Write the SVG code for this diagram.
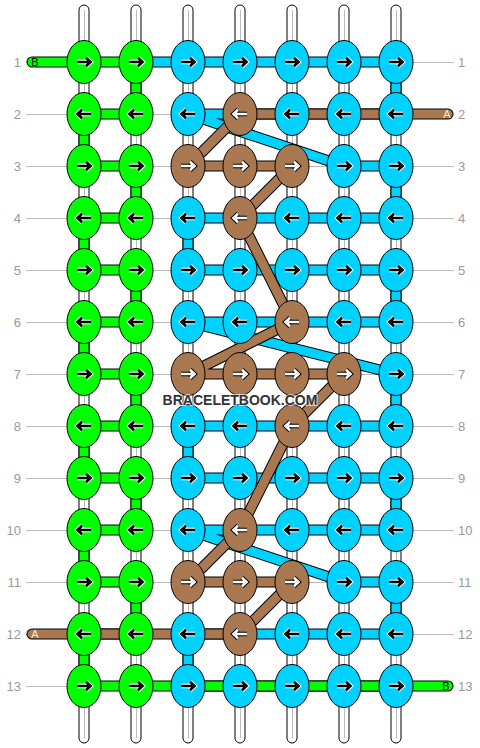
<svg xmlns="http://www.w3.org/2000/svg" xmlns:xlink="http://www.w3.org/1999/xlink" width="480" height="748" viewBox="0 0 480 748">
<style>
.lbl{font-family:"Liberation Sans",Arial,sans-serif;font-size:13px;fill:#999}
.rl{stroke:#bbb;stroke-width:1;fill:none}
.warp{fill:#fff;stroke:#000;stroke-width:1}
.warpc{stroke:#bbb;stroke-width:1}
.to{fill:none;stroke:#000;stroke-width:11;stroke-linejoin:round;stroke-linecap:round}
.tf{fill:none;stroke-width:9;stroke-linejoin:round;stroke-linecap:round}
.G{fill:#00ff00;stroke:#000;stroke-width:1}
.C{fill:#00d2ff;stroke:#000;stroke-width:1}
.B{fill:#a97850;stroke:#000;stroke-width:1}
.end{font-family:"Liberation Sans",Arial,sans-serif;font-size:11px;text-anchor:middle}
.wm{font-family:"Liberation Sans",Arial,sans-serif;font-weight:bold;font-size:14px;text-anchor:middle;fill:#333;stroke:#fff;stroke-width:2;paint-order:stroke;stroke-opacity:0.7}
</style>
<defs>
<path id="ap" d="M-7,0 H6.5 M2,-4.3 L6.5,0 L2,4.3"/>
<g id="R"><use href="#ap" fill="none" stroke="#fff" stroke-width="4.6"/><use href="#ap" fill="none" stroke="#000" stroke-width="2.6"/></g>
<g id="L"><use href="#R" transform="rotate(180)"/></g>
<g id="RW"><use href="#ap" fill="none" stroke="#000" stroke-width="4.6"/><use href="#ap" fill="none" stroke="#fff" stroke-width="2.6"/></g>
<g id="LW"><use href="#RW" transform="rotate(180)"/></g>
<ellipse id="e" rx="17" ry="21.5"/>
<path id="pc" d="M136,62 H396 V114 H188 L344,166 H396 V218 H188 V270 H396 V322 H188 L396,374 V426 H188 V478 H396 V530 H188 L344,582 H396 V634 H188 V686 H396"/>
<path id="pg" d="M32,62 H136 V114 H84 V166 H136 V218 H84 V270 H136 V322 H84 V374 H136 V426 H84 V478 H136 V530 H84 V582 H136 V634 H84 V686 H448"/>
<path id="pb" d="M448,114 H240 L188,166 H292 L240,218 L292,322 L188,374 H344 L292,426 L240,530 L188,582 H292 L240,634 H32"/>
</defs>

<g id="rowlines">
<path class="rl" d="M26,62.5H454M26,114.5H454M26,166.5H454M26,218.5H454M26,270.5H454M26,322.5H454M26,374.5H454M26,426.5H454M26,478.5H454M26,530.5H454M26,582.5H454M26,634.5H454M26,686.5H454"/>
</g>

<g id="labels-left" class="lbl" text-anchor="end">
<text x="21" y="67">1</text><text x="21" y="119">2</text><text x="21" y="171">3</text><text x="21" y="223">4</text><text x="21" y="275">5</text><text x="21" y="327">6</text><text x="21" y="379">7</text><text x="21" y="431">8</text><text x="21" y="483">9</text><text x="21" y="535">10</text><text x="21" y="587">11</text><text x="21" y="639">12</text><text x="21" y="691">13</text>
</g>
<g id="labels-right" class="lbl" text-anchor="start">
<text x="458" y="67">1</text><text x="458" y="119">2</text><text x="458" y="171">3</text><text x="458" y="223">4</text><text x="458" y="275">5</text><text x="458" y="327">6</text><text x="458" y="379">7</text><text x="458" y="431">8</text><text x="458" y="483">9</text><text x="458" y="535">10</text><text x="458" y="587">11</text><text x="458" y="639">12</text><text x="458" y="691">13</text>
</g>

<g id="warps">
<rect class="warp" x="79" y="5" width="10" height="738" rx="5"/><line class="warpc" x1="84.5" y1="10" x2="84.5" y2="738"/>
<rect class="warp" x="131" y="5" width="10" height="738" rx="5"/><line class="warpc" x1="136.5" y1="10" x2="136.5" y2="738"/>
<rect class="warp" x="183" y="5" width="10" height="738" rx="5"/><line class="warpc" x1="188.5" y1="10" x2="188.5" y2="738"/>
<rect class="warp" x="235" y="5" width="10" height="738" rx="5"/><line class="warpc" x1="240.5" y1="10" x2="240.5" y2="738"/>
<rect class="warp" x="287" y="5" width="10" height="738" rx="5"/><line class="warpc" x1="292.5" y1="10" x2="292.5" y2="738"/>
<rect class="warp" x="339" y="5" width="10" height="738" rx="5"/><line class="warpc" x1="344.5" y1="10" x2="344.5" y2="738"/>
<rect class="warp" x="391" y="5" width="10" height="738" rx="5"/><line class="warpc" x1="396.5" y1="10" x2="396.5" y2="738"/>
</g>

<g id="connectors">
<use href="#pc" class="to"/>
<use href="#pc" class="tf" stroke="#00d2ff"/>
<use href="#pg" class="to"/>
<use href="#pg" class="tf" stroke="#00ff00"/>
<use href="#pb" class="to"/>
<use href="#pb" class="tf" stroke="#a97850"/>
<text class="end" x="35" y="66" fill="#000">B</text>
<text class="end" x="447" y="118" fill="#f5e8dc">A</text>
<text class="end" x="35" y="638" fill="#f5e8dc">A</text>
<text class="end" x="446" y="690" fill="#000">B</text>
</g>

<g id="knots">
<g id="k1"><g transform="translate(84,62)"><use href="#e" class="G"/><use href="#R"/></g><g transform="translate(136,62)"><use href="#e" class="G"/><use href="#R"/></g><g transform="translate(188,62)"><use href="#e" class="C"/><use href="#R"/></g><g transform="translate(240,62)"><use href="#e" class="C"/><use href="#R"/></g><g transform="translate(292,62)"><use href="#e" class="C"/><use href="#R"/></g><g transform="translate(344,62)"><use href="#e" class="C"/><use href="#R"/></g><g transform="translate(396,62)"><use href="#e" class="C"/><use href="#R"/></g></g>
<g id="k2"><g transform="translate(84,114)"><use href="#e" class="G"/><use href="#L"/></g><g transform="translate(136,114)"><use href="#e" class="G"/><use href="#L"/></g><g transform="translate(188,114)"><use href="#e" class="C"/><use href="#L"/></g><g transform="translate(240,114)"><use href="#e" class="B"/><use href="#LW"/></g><g transform="translate(292,114)"><use href="#e" class="C"/><use href="#L"/></g><g transform="translate(344,114)"><use href="#e" class="C"/><use href="#L"/></g><g transform="translate(396,114)"><use href="#e" class="C"/><use href="#L"/></g></g>
<g id="k3"><g transform="translate(84,166)"><use href="#e" class="G"/><use href="#R"/></g><g transform="translate(136,166)"><use href="#e" class="G"/><use href="#R"/></g><g transform="translate(188,166)"><use href="#e" class="B"/><use href="#RW"/></g><g transform="translate(240,166)"><use href="#e" class="B"/><use href="#RW"/></g><g transform="translate(292,166)"><use href="#e" class="B"/><use href="#RW"/></g><g transform="translate(344,166)"><use href="#e" class="C"/><use href="#R"/></g><g transform="translate(396,166)"><use href="#e" class="C"/><use href="#R"/></g></g>
<g id="k4"><g transform="translate(84,218)"><use href="#e" class="G"/><use href="#L"/></g><g transform="translate(136,218)"><use href="#e" class="G"/><use href="#L"/></g><g transform="translate(188,218)"><use href="#e" class="C"/><use href="#L"/></g><g transform="translate(240,218)"><use href="#e" class="B"/><use href="#LW"/></g><g transform="translate(292,218)"><use href="#e" class="C"/><use href="#L"/></g><g transform="translate(344,218)"><use href="#e" class="C"/><use href="#L"/></g><g transform="translate(396,218)"><use href="#e" class="C"/><use href="#L"/></g></g>
<g id="k5"><g transform="translate(84,270)"><use href="#e" class="G"/><use href="#R"/></g><g transform="translate(136,270)"><use href="#e" class="G"/><use href="#R"/></g><g transform="translate(188,270)"><use href="#e" class="C"/><use href="#R"/></g><g transform="translate(240,270)"><use href="#e" class="C"/><use href="#R"/></g><g transform="translate(292,270)"><use href="#e" class="C"/><use href="#R"/></g><g transform="translate(344,270)"><use href="#e" class="C"/><use href="#R"/></g><g transform="translate(396,270)"><use href="#e" class="C"/><use href="#R"/></g></g>
<g id="k6"><g transform="translate(84,322)"><use href="#e" class="G"/><use href="#L"/></g><g transform="translate(136,322)"><use href="#e" class="G"/><use href="#L"/></g><g transform="translate(188,322)"><use href="#e" class="C"/><use href="#L"/></g><g transform="translate(240,322)"><use href="#e" class="C"/><use href="#L"/></g><g transform="translate(292,322)"><use href="#e" class="B"/><use href="#LW"/></g><g transform="translate(344,322)"><use href="#e" class="C"/><use href="#L"/></g><g transform="translate(396,322)"><use href="#e" class="C"/><use href="#L"/></g></g>
<g id="k7"><g transform="translate(84,374)"><use href="#e" class="G"/><use href="#R"/></g><g transform="translate(136,374)"><use href="#e" class="G"/><use href="#R"/></g><g transform="translate(188,374)"><use href="#e" class="B"/><use href="#RW"/></g><g transform="translate(240,374)"><use href="#e" class="B"/><use href="#RW"/></g><g transform="translate(292,374)"><use href="#e" class="B"/><use href="#RW"/></g><g transform="translate(344,374)"><use href="#e" class="B"/><use href="#RW"/></g><g transform="translate(396,374)"><use href="#e" class="C"/><use href="#R"/></g></g>
<g id="k8"><g transform="translate(84,426)"><use href="#e" class="G"/><use href="#L"/></g><g transform="translate(136,426)"><use href="#e" class="G"/><use href="#L"/></g><g transform="translate(188,426)"><use href="#e" class="C"/><use href="#L"/></g><g transform="translate(240,426)"><use href="#e" class="C"/><use href="#L"/></g><g transform="translate(292,426)"><use href="#e" class="B"/><use href="#LW"/></g><g transform="translate(344,426)"><use href="#e" class="C"/><use href="#L"/></g><g transform="translate(396,426)"><use href="#e" class="C"/><use href="#L"/></g></g>
<g id="k9"><g transform="translate(84,478)"><use href="#e" class="G"/><use href="#R"/></g><g transform="translate(136,478)"><use href="#e" class="G"/><use href="#R"/></g><g transform="translate(188,478)"><use href="#e" class="C"/><use href="#R"/></g><g transform="translate(240,478)"><use href="#e" class="C"/><use href="#R"/></g><g transform="translate(292,478)"><use href="#e" class="C"/><use href="#R"/></g><g transform="translate(344,478)"><use href="#e" class="C"/><use href="#R"/></g><g transform="translate(396,478)"><use href="#e" class="C"/><use href="#R"/></g></g>
<g id="k10"><g transform="translate(84,530)"><use href="#e" class="G"/><use href="#L"/></g><g transform="translate(136,530)"><use href="#e" class="G"/><use href="#L"/></g><g transform="translate(188,530)"><use href="#e" class="C"/><use href="#L"/></g><g transform="translate(240,530)"><use href="#e" class="B"/><use href="#LW"/></g><g transform="translate(292,530)"><use href="#e" class="C"/><use href="#L"/></g><g transform="translate(344,530)"><use href="#e" class="C"/><use href="#L"/></g><g transform="translate(396,530)"><use href="#e" class="C"/><use href="#L"/></g></g>
<g id="k11"><g transform="translate(84,582)"><use href="#e" class="G"/><use href="#R"/></g><g transform="translate(136,582)"><use href="#e" class="G"/><use href="#R"/></g><g transform="translate(188,582)"><use href="#e" class="B"/><use href="#RW"/></g><g transform="translate(240,582)"><use href="#e" class="B"/><use href="#RW"/></g><g transform="translate(292,582)"><use href="#e" class="B"/><use href="#RW"/></g><g transform="translate(344,582)"><use href="#e" class="C"/><use href="#R"/></g><g transform="translate(396,582)"><use href="#e" class="C"/><use href="#R"/></g></g>
<g id="k12"><g transform="translate(84,634)"><use href="#e" class="G"/><use href="#L"/></g><g transform="translate(136,634)"><use href="#e" class="G"/><use href="#L"/></g><g transform="translate(188,634)"><use href="#e" class="C"/><use href="#L"/></g><g transform="translate(240,634)"><use href="#e" class="B"/><use href="#LW"/></g><g transform="translate(292,634)"><use href="#e" class="C"/><use href="#L"/></g><g transform="translate(344,634)"><use href="#e" class="C"/><use href="#L"/></g><g transform="translate(396,634)"><use href="#e" class="C"/><use href="#L"/></g></g>
<g id="k13"><g transform="translate(84,686)"><use href="#e" class="G"/><use href="#R"/></g><g transform="translate(136,686)"><use href="#e" class="G"/><use href="#R"/></g><g transform="translate(188,686)"><use href="#e" class="C"/><use href="#R"/></g><g transform="translate(240,686)"><use href="#e" class="C"/><use href="#R"/></g><g transform="translate(292,686)"><use href="#e" class="C"/><use href="#R"/></g><g transform="translate(344,686)"><use href="#e" class="C"/><use href="#R"/></g><g transform="translate(396,686)"><use href="#e" class="C"/><use href="#R"/></g></g>
</g>

<text id="watermark" class="wm" x="240" y="405">BRACELETBOOK.COM</text>
</svg>
